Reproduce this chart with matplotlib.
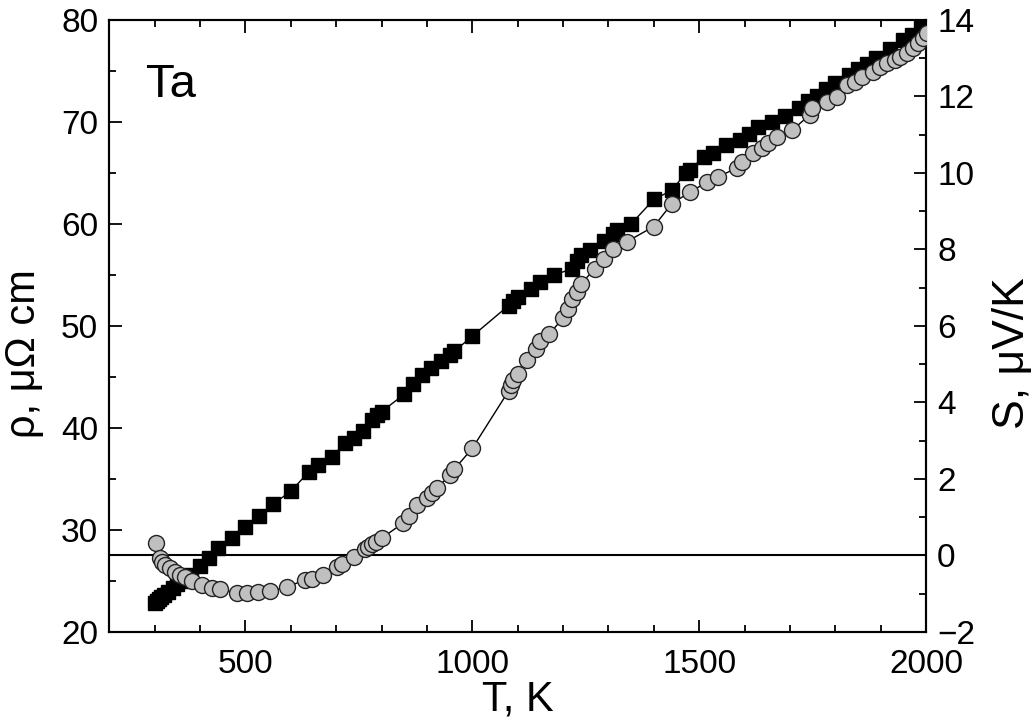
import matplotlib
matplotlib.use("Agg")
import matplotlib.pyplot as plt
from matplotlib.ticker import MultipleLocator

plt.rcParams['font.family'] = ['Liberation Sans', 'DejaVu Sans']

# Resistivity rho (muOhm cm) vs T (K)
T_rho = [300, 305, 310, 315, 320, 330, 340, 350, 360, 380, 400, 420, 440, 470, 500,
         530, 560, 600, 640, 660, 690, 720, 740, 760, 780, 790, 800, 850, 870, 890,
         910, 930, 950, 960, 1000, 1080, 1090, 1100, 1130, 1150, 1180, 1220, 1230,
         1240, 1260, 1290, 1310, 1320, 1350, 1400, 1440, 1470, 1480, 1510, 1530,
         1560, 1590, 1610, 1630, 1660, 1690, 1720, 1740, 1760, 1780, 1800, 1830,
         1850, 1870, 1890, 1920, 1950, 1970, 1990, 2000]
rho = [22.8, 23.0, 23.2, 23.4, 23.6, 23.9, 24.3, 24.7, 25.0, 25.6, 26.5, 27.3, 28.2,
       29.2, 30.3, 31.4, 32.5, 33.8, 35.7, 36.4, 37.2, 38.5, 39.0, 39.7, 40.8, 41.3,
       41.6, 43.3, 44.3, 45.2, 45.9, 46.6, 47.2, 47.5, 49.0, 52.0, 52.4, 52.8, 53.6,
       54.3, 55.0, 55.6, 56.4, 57.0, 57.4, 58.3, 59.0, 59.4, 60.0, 62.4, 63.3, 65.0,
       65.3, 66.6, 67.0, 67.7, 68.2, 68.8, 69.5, 70.0, 70.6, 71.4, 72.1, 72.5, 73.2,
       73.8, 74.6, 75.2, 75.7, 76.3, 77.2, 78.0, 78.5, 79.2, 79.6]

# Thermopower S (muV/K) vs T (K)
T_S = [303, 311, 316, 323, 334, 345, 356, 367, 382, 404, 427, 444, 481, 503, 528,
       555, 592, 631, 647, 671, 702, 713, 740, 764, 771, 779, 788, 801, 848, 861,
       878, 900, 911, 922, 951, 960, 1000, 1080, 1085, 1090, 1100, 1120, 1140,
       1150, 1170, 1200, 1210, 1220, 1230, 1240, 1270, 1290, 1310, 1340, 1400,
       1440, 1480, 1517, 1542, 1583, 1594, 1619, 1639, 1652, 1672, 1705, 1744,
       1749, 1782, 1803, 1826, 1843, 1858, 1883, 1899, 1913, 1932, 1942, 1957,
       1971, 1982, 1993, 2002]
S = [0.33, -0.06, -0.17, -0.25, -0.33, -0.43, -0.51, -0.56, -0.67, -0.77, -0.85,
     -0.88, -0.98, -0.98, -0.95, -0.93, -0.82, -0.64, -0.61, -0.51, -0.30, -0.22,
     -0.04, 0.17, 0.22, 0.30, 0.35, 0.46, 0.85, 1.03, 1.32, 1.50, 1.63, 1.76, 2.10,
     2.25, 2.80, 4.30, 4.45, 4.60, 4.75, 5.10, 5.40, 5.60, 5.80, 6.20, 6.45, 6.70,
     6.90, 7.10, 7.50, 7.75, 8.0, 8.2, 8.6, 9.2, 9.5, 9.76, 9.90, 10.13, 10.29,
     10.52, 10.65, 10.78, 10.94, 11.12, 11.52, 11.70, 11.86, 11.99, 12.30, 12.38,
     12.50, 12.64, 12.77, 12.87, 12.95, 13.03, 13.14, 13.27, 13.40, 13.53, 13.66]

fig = plt.figure(figsize=(10.32, 7.26), dpi=100)
ax = fig.add_axes([0.1059, 0.1295, 0.7914, 0.843])
ax2 = ax.twinx()

ax.plot(T_rho, rho, color='black', lw=1.0, marker='s', ms=9.5,
        mfc='black', mec='black', zorder=3)
ax2.axhline(0, color='black', lw=1.5, zorder=1)
ax2.plot(T_S, S, color='black', lw=1.0, marker='o', ms=11.5,
         mfc='#c0c0c0', mec='#222222', mew=1.0, zorder=3)

ax.set_xlim(200, 2000)
ax.set_ylim(20, 80)
ax2.set_ylim(-2, 14)

ax.xaxis.set_major_locator(MultipleLocator(500))
ax.xaxis.set_minor_locator(MultipleLocator(100))
ax.yaxis.set_major_locator(MultipleLocator(10))
ax.yaxis.set_minor_locator(MultipleLocator(5))
ax2.yaxis.set_major_locator(MultipleLocator(2))
ax2.yaxis.set_minor_locator(MultipleLocator(1))

ax.tick_params(which='both', direction='in', top=True, right=False,
               labelsize=24, width=1.3, pad=8)
ax.tick_params(axis='x', which='both', pad=12)
ax.tick_params(which='major', length=9)
ax.tick_params(which='minor', length=5)
ax2.tick_params(which='both', direction='in', labelsize=24, width=1.3, pad=8)
ax2.tick_params(which='major', length=9)
ax2.tick_params(which='minor', length=5)

for a in (ax, ax2):
    for sp in a.spines.values():
        sp.set_linewidth(1.5)

ax.set_xlabel('T, K', fontsize=30, labelpad=0)
ax.set_ylabel('ρ, μΩ cm', fontsize=30, labelpad=12)
ax2.set_ylabel('S, μV/K', fontsize=32, labelpad=12)
ax.yaxis.label.set_y(0.455)
ax2.yaxis.label.set_y(0.455)

ax.text(0.045, 0.93, 'Ta', transform=ax.transAxes, fontsize=34,
        ha='left', va='top')

fig.savefig('out.png', dpi=100)
